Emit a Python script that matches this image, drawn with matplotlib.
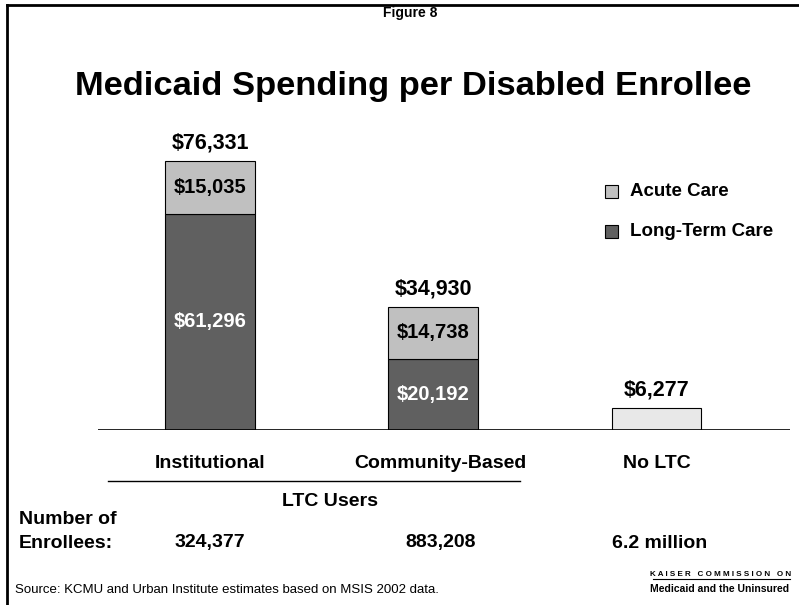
import matplotlib.pyplot as plt
from matplotlib.patches import Rectangle
from matplotlib.lines import Line2D

plt.rcParams['font.family'] = ['Liberation Sans', 'DejaVu Sans']

# data
categories = ['Institutional', 'Community-Based', 'No LTC']
long_term_care = [61296, 20192, 0]
acute_care = [15035, 14738, 0]
no_ltc_total = [0, 0, 6277]
totals = [76331, 34930, 6277]
enrollees = ['324,377', '883,208', '6.2 million']

W, H = 799, 605
fig = plt.figure(figsize=(W / 100, H / 100), dpi=100)


def fx(x):
    return x / W


def fy(y):
    return 1 - y / H


# slide frame (top and left edge visible)
fig.add_artist(Line2D([fx(7), 1], [fy(5), fy(5)], color='black', lw=2))
fig.add_artist(Line2D([fx(7), fx(7)], [fy(5), 0], color='black', lw=2))

fig.text(fx(410), fy(13), 'Figure 8', ha='center', va='center',
         fontsize=10, fontweight='bold')
fig.text(fx(413), fy(87), 'Medicaid Spending per Disabled Enrollee',
         ha='center', va='center', fontsize=24.8, fontweight='bold')

# bar axes: x from 98px to 790px, baseline at 430px
ax = fig.add_axes([fx(98), fy(430), (790 - 98) / W, 300 / H])
ax.set_xlim(-0.502, 2.6)
ax.set_ylim(0, 85000)
ax.axis('off')
ax.axhline(0, color='black', lw=1.2, zorder=5)

x = range(len(categories))
width = 0.40
dark = '#606060'
light = '#c0c0c0'
pale = '#e8e8e8'

ax.bar(x, long_term_care, width, color=dark, edgecolor='black', lw=0.8)
ax.bar(x, acute_care, width, bottom=long_term_care, color=light,
       edgecolor='black', lw=0.8)
ax.bar(x, no_ltc_total, width, color=pale, edgecolor='black', lw=0.8)

for i, tot in enumerate(totals):
    ax.annotate(f'${tot:,}', (i, tot), xytext=(0, 5), textcoords='offset points',
                ha='center', va='bottom', fontsize=15.5, fontweight='bold')
    if long_term_care[i] > 0:
        ax.text(i, long_term_care[i] / 2, f'${long_term_care[i]:,}',
                ha='center', va='center', fontsize=14.5, fontweight='bold',
                color='white')
    if acute_care[i] > 0:
        ax.text(i, long_term_care[i] + acute_care[i] / 2, f'${acute_care[i]:,}',
                ha='center', va='center', fontsize=14.5, fontweight='bold')

# legend
for (label, col, yc) in [('Acute Care', light, 191), ('Long-Term Care', dark, 231)]:
    fig.add_artist(Rectangle((fx(605), fy(yc + 6.5)), 13 / W, 13 / H,
                             facecolor=col, edgecolor='black', lw=0.8))
    fig.text(fx(630), fy(yc), label, ha='left', va='center',
             fontsize=13.5, fontweight='bold')

# category labels
cat_px = [210, 440, 657]
for cx, name in zip(cat_px, categories):
    fig.text(fx(cx), fy(464), name, ha='center', va='center',
             fontsize=14, fontweight='bold')
fig.add_artist(Line2D([fx(108), fx(520)], [fy(481), fy(481)], color='black', lw=1))
fig.text(fx(330), fy(501), 'LTC Users', ha='center', va='center',
         fontsize=14, fontweight='bold')

fig.text(fx(19), fy(519), 'Number of', ha='left', va='center',
         fontsize=14, fontweight='bold')
fig.text(fx(19), fy(543), 'Enrollees:', ha='left', va='center',
         fontsize=14, fontweight='bold')
for cx, n in zip([210, 441, 660], enrollees):
    fig.text(fx(cx), fy(543), n, ha='center', va='center',
             fontsize=14, fontweight='bold')

fig.text(fx(15), fy(590), 'Source: KCMU and Urban Institute estimates based on MSIS 2002 data.',
         ha='left', va='center', fontsize=9.5)

# logo
fig.text(fx(721), fy(574), 'K A I S E R   C O M M I S S I O N   O N',
         ha='center', va='center', fontsize=5.8, fontweight='bold')
fig.add_artist(Line2D([fx(653), fx(790)], [fy(579), fy(579)], color='black', lw=0.8))
fig.text(fx(720), fy(589), 'Medicaid and the Uninsured', ha='center', va='center',
         fontsize=7.5, fontweight='heavy')

fig.savefig('out.png', dpi=100)
